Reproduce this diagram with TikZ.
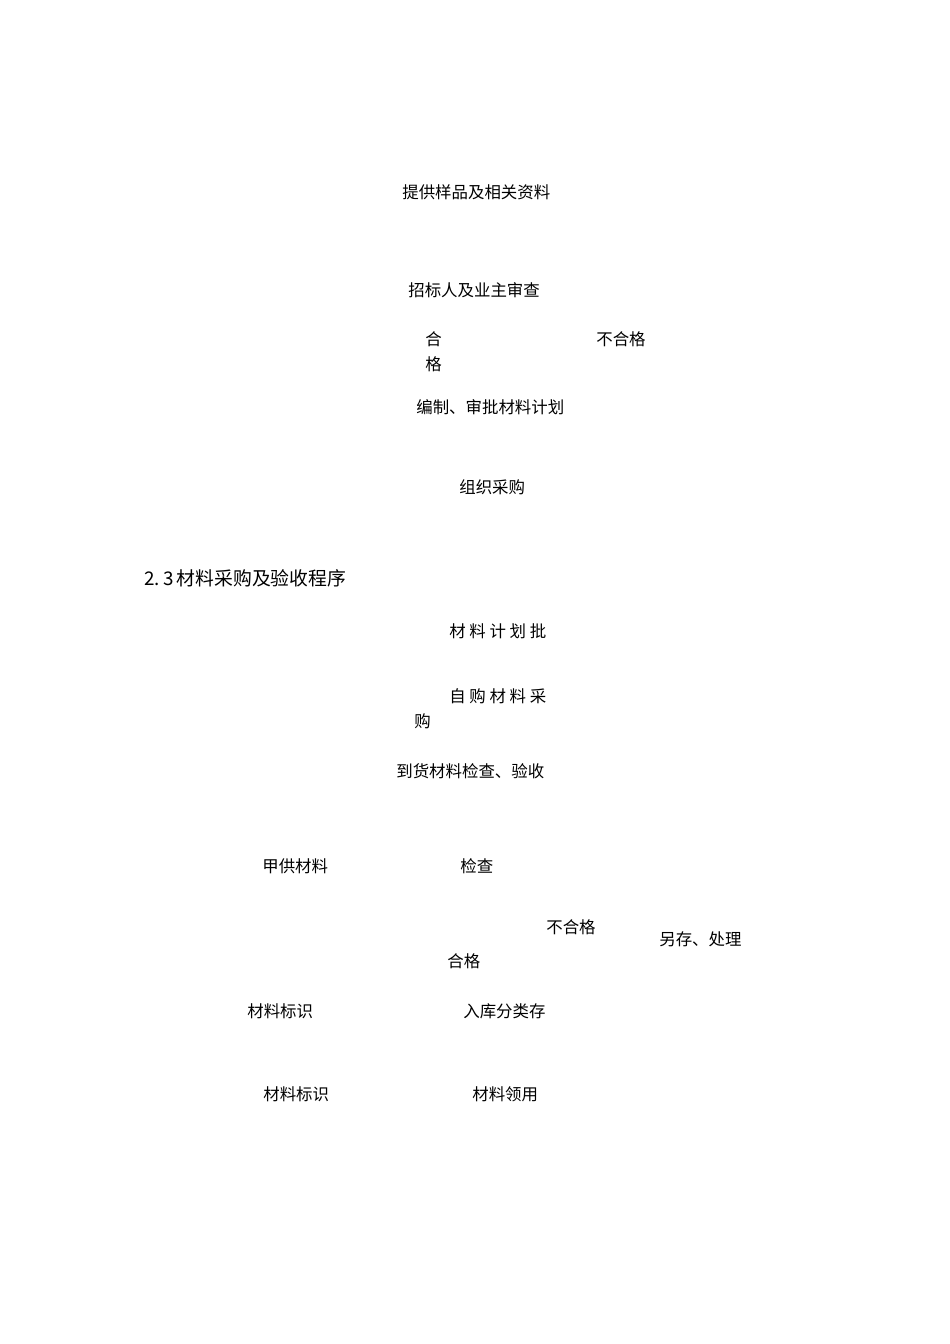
\documentclass[tikz,border=0pt]{standalone}
\usepackage{fontspec}
\newfontfamily\cjk{Noto Sans CJK SC}
\usepackage{tikz}

\tikzset{lbl/.style={anchor=west, inner sep=0pt, font=\cjk\fontsize{10.3pt}{12pt}\selectfont},
  headlbl/.style={lbl, font=\cjk\fontsize{11.8pt}{14pt}\selectfont}}

\begin{document}
\begin{tikzpicture}[x=0.6266pt, y=-0.6266pt]
\useasboundingbox (0,0) rectangle (950,1344);
% Muestras y revisión
\node (sample) at (402,192) [lbl] {提供样品及相关资料};
\node (review) at (408,290) [lbl] {招标人及业主审查};
\node (okA) at (425,339) [lbl] {合};
\node (okB) at (425,364) [lbl] {格};
\node (failA) at (596,339) [lbl] {不合格};
\node (plan) at (416,407) [lbl] {编制、审批材料计划};
\node (buy) at (459,487) [lbl] {组织采购};
% Título 2.3
\node (title) at (144,578) [headlbl] {2.\,3\,材料采购及验收程序};
\node (planok) at (449,631) [lbl] {材 料 计 划 批};
\node (selfA) at (449,696) [lbl] {自 购 材 料 采};
\node (selfB) at (414,721) [lbl] {购};
\node (arrive) at (396,771) [lbl] {到货材料检查、验收};
% Inspección y almacén
\node (owner) at (262,866) [lbl] {甲供材料};
\node (check) at (460,866) [lbl] {检查};
\node (failB) at (546,927) [lbl] {不合格};
\node (aside) at (659,939) [lbl] {另存、处理};
\node (okC) at (447,961) [lbl] {合格};
\node (markA) at (247,1011) [lbl] {材料标识};
\node (store) at (463,1011) [lbl] {入库分类存};
\node (markB) at (263,1094) [lbl] {材料标识};
\node (use) at (472,1094) [lbl] {材料领用};
\end{tikzpicture}
\end{document}
